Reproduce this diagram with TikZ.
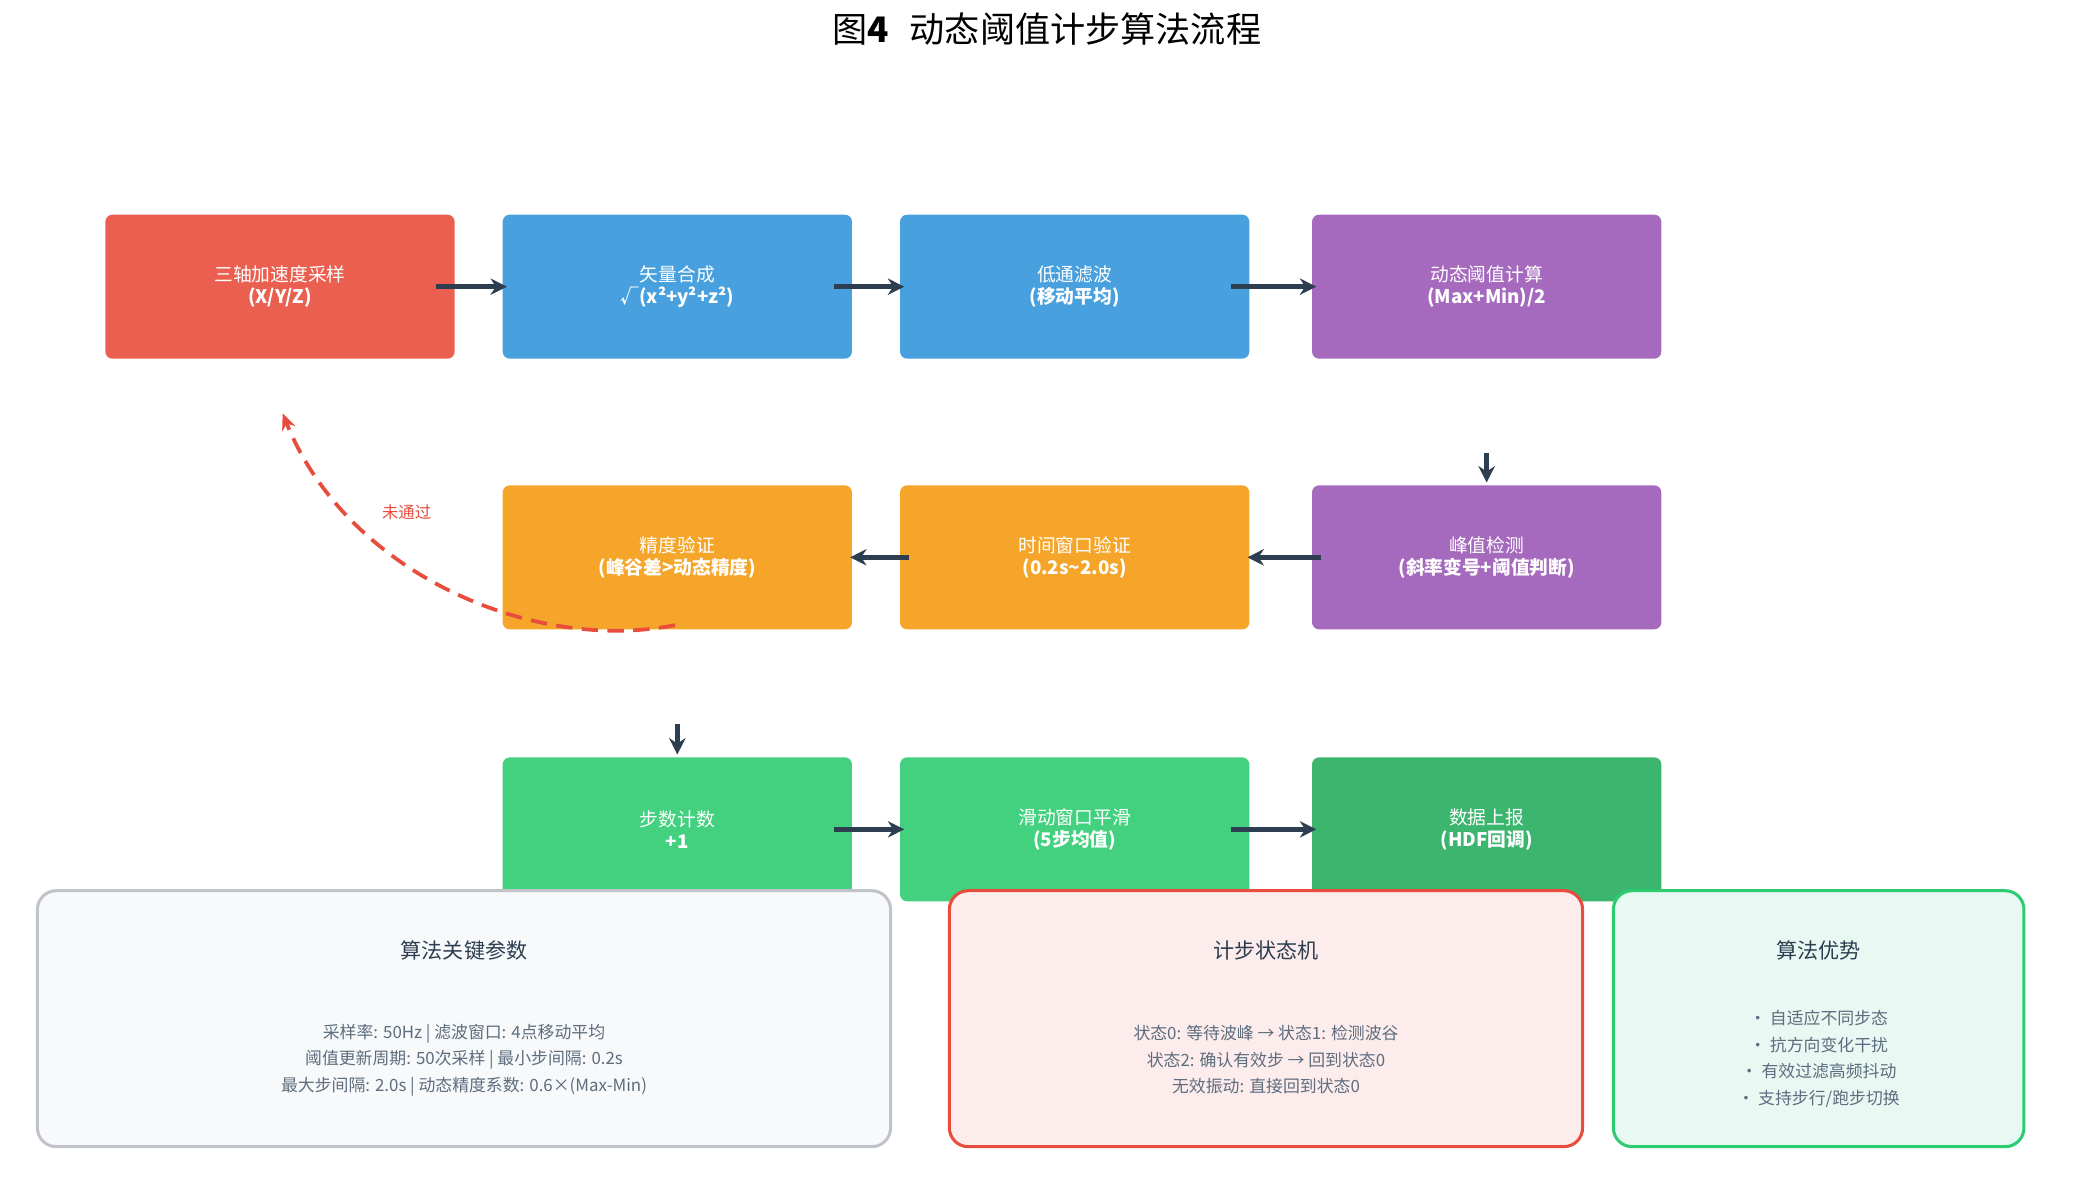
\documentclass[tikz,border=0pt]{standalone}
\usepackage{fontspec}
\setmainfont{Noto Sans CJK SC}
\usetikzlibrary{arrows.meta}
\definecolor{cRed}{HTML}{EA5F50}
\definecolor{cBlue}{HTML}{48A1DE}
\definecolor{cPurple}{HTML}{A56ABD}
\definecolor{cOrange}{HTML}{F5A62A}
\definecolor{cGreen}{HTML}{43D17F}
\definecolor{cDGreen}{HTML}{3CB56F}
\definecolor{cDark}{HTML}{2C3E50}
\definecolor{cText}{HTML}{5D6D7E}
\definecolor{pGrey}{HTML}{F8F9FA}
\definecolor{pGreyB}{HTML}{C0C4C8}
\definecolor{pRed}{HTML}{FDECEC}
\definecolor{pRedB}{HTML}{E74C3C}
\definecolor{pGreen}{HTML}{E8F8F2}
\definecolor{pGreenB}{HTML}{2ECC71}
\begin{document}
\begin{tikzpicture}[x=0.02cm,y=-0.02cm]
            \tikzstyle{box}=[rounded corners=3pt,minimum width=5.24cm,minimum height=2.16cm,text=white,align=center,font=\fontsize{8}{9.5}\selectfont,inner sep=0pt]
            \tikzstyle{flow}=[draw=cDark,line width=2pt,-{Stealth[length=7pt,width=7pt]}]
            \tikzstyle{panel}=[rounded corners=8pt,line width=1.3pt,minimum height=3.84cm,inner sep=0pt]
            \tikzstyle{ptitle}=[text=cDark,font=\fontsize{9}{11}\selectfont]
            \tikzstyle{pbody}=[text=cText,align=center,font=\fontsize{7.2}{11.3}\selectfont]

            \useasboundingbox (0,0) rectangle (1560,883);

            \node[text=black,font=\fontsize{15}{18}\selectfont] (title) at (785,22) {图\textbf{4}\hspace{0.6em}动态阈值计步算法流程};

            \def\yA{215}
            \def\yB{418}
            \def\yC{622}

            \node[box,fill=cRed]    (b1) at (210,\yA)  {三轴加速度采样\\\textbf{(X/Y/Z)}};
            \node[box,fill=cBlue]   (b2) at (508,\yA)  {矢量合成\\\textbf{√(x²+y²+z²)}};
            \node[box,fill=cBlue]   (b3) at (806,\yA)  {低通滤波\\\textbf{(移动平均)}};
            \node[box,fill=cPurple] (b4) at (1115,\yA) {动态阈值计算\\\textbf{(Max+Min)/2}};
            \node[box,fill=cPurple] (b5) at (1115,\yB) {峰值检测\\\textbf{(斜率变号+阈值判断)}};
            \node[box,fill=cOrange] (b6) at (806,\yB)  {时间窗口验证\\\textbf{(0.2s\textasciitilde2.0s)}};
            \node[box,fill=cOrange] (b7) at (508,\yB)  {精度验证\\\textbf{(峰谷差>动态精度)}};
            \node[box,fill=cGreen]  (b8) at (508,\yC)  {步数计数\\\textbf{+1}};
            \node[box,fill=cGreen]  (b9) at (806,\yC)  {滑动窗口平滑\\\textbf{(5步均值)}};
            \node[box,fill=cDGreen] (b10) at (1115,\yC) {数据上报\\\textbf{(HDF回调)}};

            \coordinate (back) at (212,310);

            \draw[flow] ([xshift=-8pt]b1.east) -- ([xshift=2pt]b2.west);
            \draw[flow] ([xshift=-8pt]b2.east) -- ([xshift=2pt]b3.west);
            \draw[flow] ([xshift=-8pt]b3.east) -- ([xshift=2pt]b4.west);
            \draw[flow] ([yshift=-40pt]b4.south) -- ([yshift=1pt]b5.north);
            \draw[flow] ([xshift=4pt]b5.west) -- ([xshift=-1pt]b6.east);
            \draw[flow] ([xshift=4pt]b6.west) -- ([xshift=-1pt]b7.east);
            \draw[flow] ([yshift=-40pt]b7.south) -- ([yshift=1pt]b8.north);
            \draw[flow] ([xshift=-8pt]b8.east) -- ([xshift=2pt]b9.west);
            \draw[flow] ([xshift=-8pt]b9.east) -- ([xshift=2pt]b10.west);

            \draw[draw=pRedB,line width=1.6pt,dash pattern=on 7pt off 4pt,-{Stealth[length=7pt,width=6pt]}]
                ([xshift=-1pt,yshift=2pt]b7.south) .. controls (400,490) and (260,430) .. (back);
            \node[text=pRedB,font=\fontsize{7}{8}\selectfont] (fail) at (305,384) {未通过};

            \node[panel,draw=pGreyB,fill=pGrey,minimum width=12.8cm]   (p1) at (348,764) {};
            \node[panel,draw=pRedB,fill=pRed,minimum width=9.5cm]      (p2) at (949.5,764) {};
            \node[panel,draw=pGreenB,fill=pGreen,minimum width=6.16cm] (p3) at (1364,764) {};

            \node[ptitle] (t1) at (348,713) {算法关键参数};
            \node[ptitle] (t2) at (949.5,713) {计步状态机};
            \node[ptitle] (t3) at (1364,713) {算法优势};

            \node[pbody] (s1) at (348,795) {采样率: 50Hz | 滤波窗口: 4点移动平均\\阈值更新周期: 50次采样 | 最小步间隔: 0.2s\\最大步间隔: 2.0s | 动态精度系数: 0.6×(Max-Min)};
            \node[pbody] (s2) at (949.5,795) {状态0: 等待波峰 → 状态1: 检测波谷\\状态2: 确认有效步 → 回到状态0\\无效振动: 直接回到状态0};
            \node[pbody] (s3) at (1364,794) {• 自适应不同步态\\• 抗方向变化干扰\\• 有效过滤高频抖动\\• 支持步行/跑步切换};
        \end{tikzpicture}
\end{document}
